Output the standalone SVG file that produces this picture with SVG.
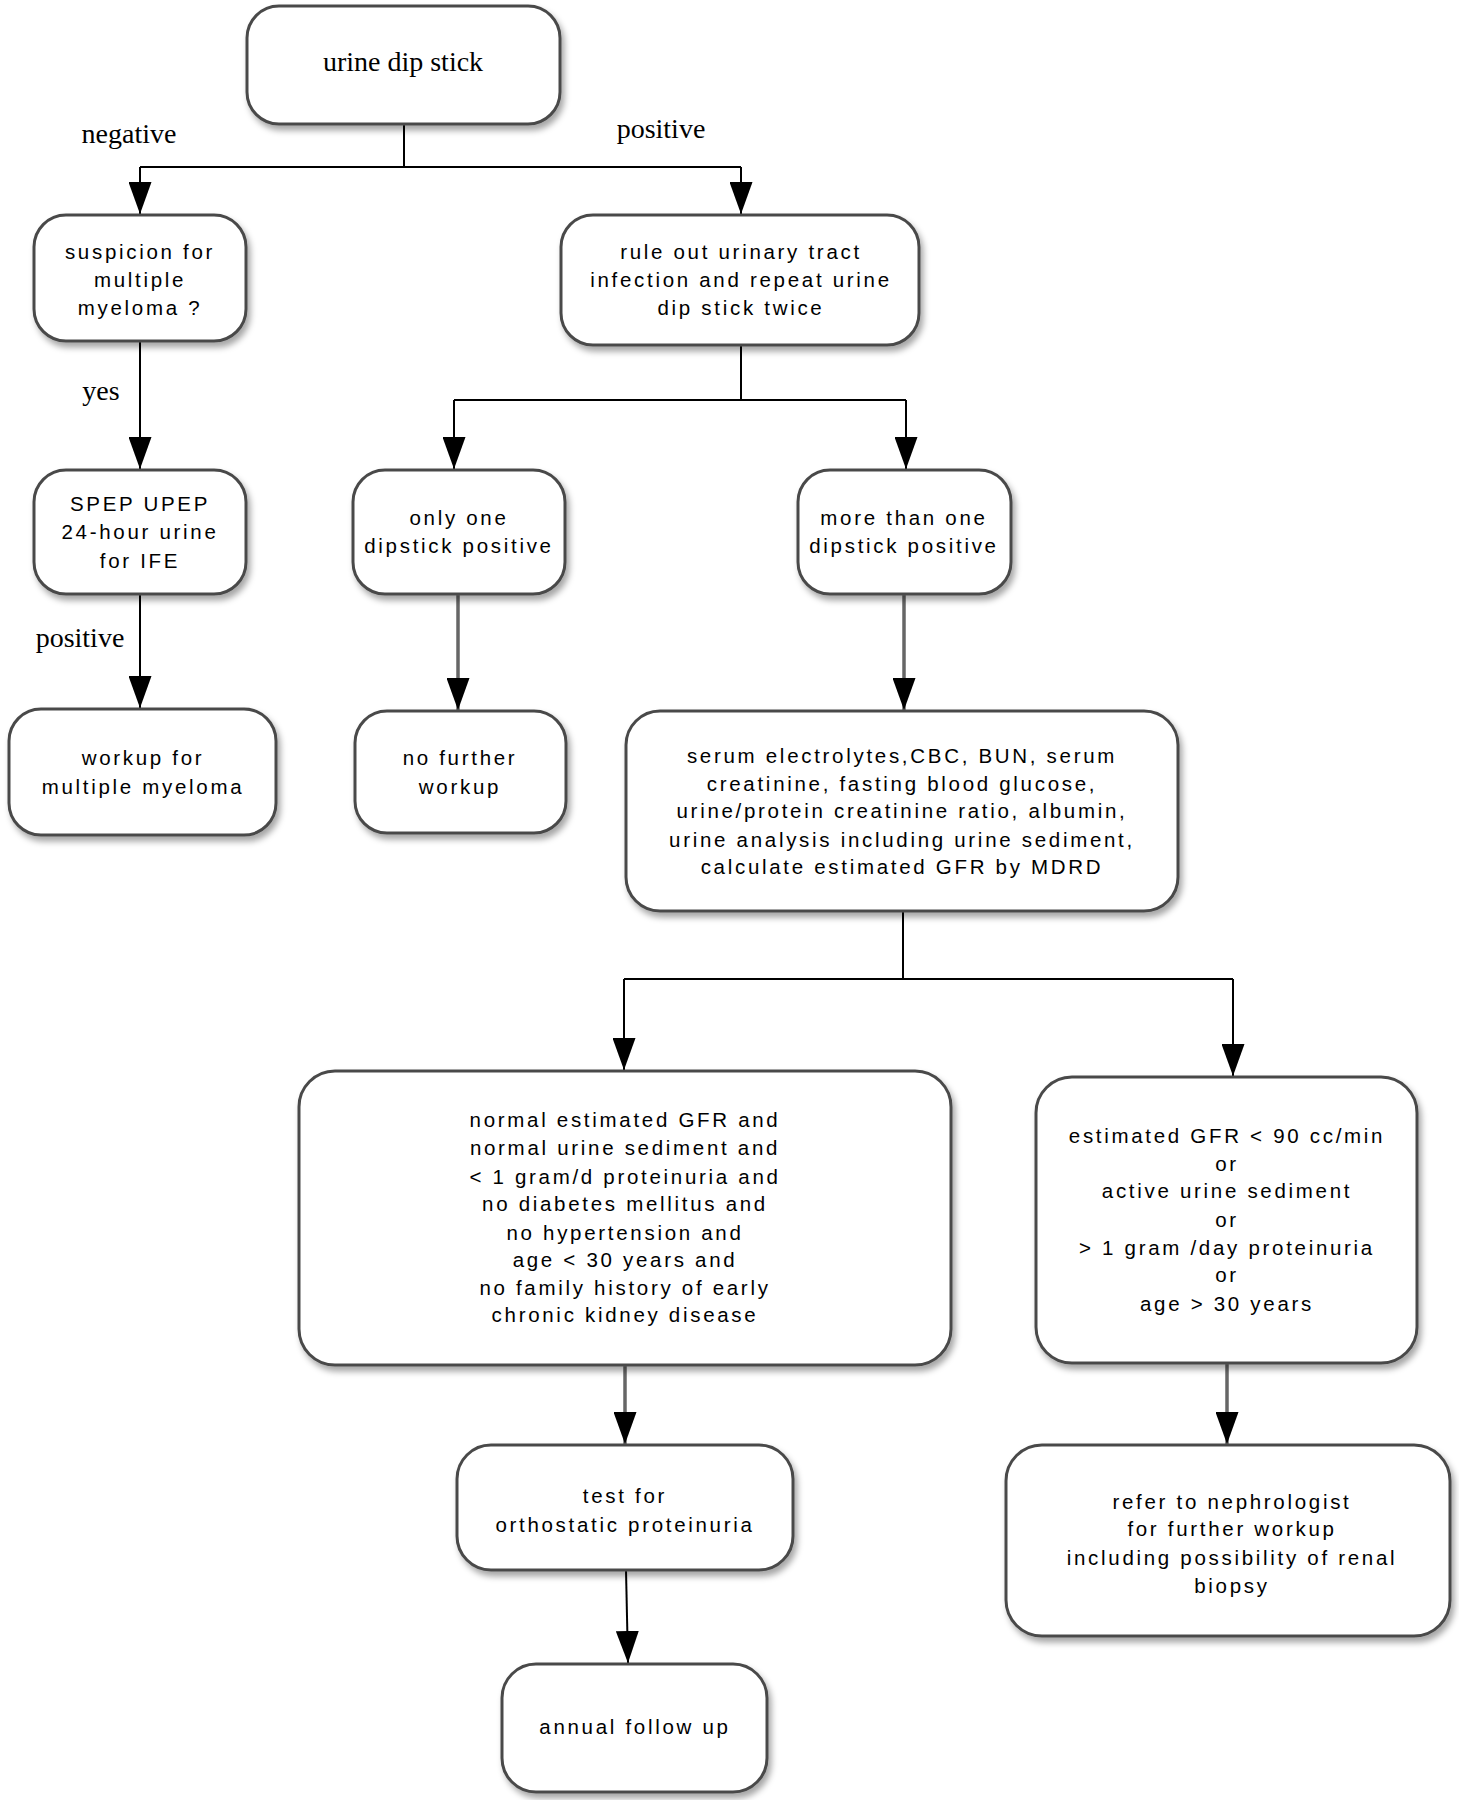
<svg xmlns="http://www.w3.org/2000/svg" width="1459" height="1800" viewBox="0 0 1459 1800">
<style>
.box{fill:#fff;stroke:#4a4a4a;stroke-width:3;filter:url(#sh)}
.t{font-family:"Liberation Sans",Arial,sans-serif;font-size:20.5px;fill:#000;text-anchor:middle;letter-spacing:2.7px}
.s{font-family:"Liberation Serif","Times New Roman",serif;font-size:28px;fill:#000;text-anchor:middle}
.c{fill:none;stroke:#000;stroke-width:2}
.g{fill:none;stroke:#666;stroke-width:3.5}
</style>
<defs>
<filter id="sh" x="-10%" y="-10%" width="125%" height="130%">
<feDropShadow dx="3" dy="5" stdDeviation="3" flood-color="#000" flood-opacity="0.35"/>
</filter>
<marker id="ar" markerUnits="userSpaceOnUse" markerWidth="32" markerHeight="23" refX="32" refY="11.5" orient="auto" viewBox="0 0 32 23">
<path d="M0,0 L32,11.5 L0,23 Z" fill="#000"/>
</marker>
</defs>
<rect width="1459" height="1800" fill="#fff"/>

<g id="connectors">
<path class="c" d="M404,124 V167 M140,167 H741"/>
<path class="c" d="M140,167 V214" marker-end="url(#ar)"/>
<path class="c" d="M741,167 V214" marker-end="url(#ar)"/>
<path class="c" d="M140,341 V469" marker-end="url(#ar)"/>
<path class="c" d="M140,594 V708" marker-end="url(#ar)"/>
<path class="c" d="M741,345 V400 M454,400 H906"/>
<path class="c" d="M454,400 V469" marker-end="url(#ar)"/>
<path class="c" d="M906,400 V469" marker-end="url(#ar)"/>
<path class="g" d="M458,594 V710" marker-end="url(#ar)"/>
<path class="g" d="M904,594 V710" marker-end="url(#ar)"/>
<path class="c" d="M903,911 V979 M624,979 H1233"/>
<path class="c" d="M624,979 V1070" marker-end="url(#ar)"/>
<path class="c" d="M1233,979 V1076" marker-end="url(#ar)"/>
<path class="g" d="M625,1365 V1444" marker-end="url(#ar)"/>
<path class="c" d="M626,1570 L628,1663" marker-end="url(#ar)"/>
<path class="g" d="M1227,1363 V1444" marker-end="url(#ar)"/>
<text class="s" x="129" y="143">negative</text>
<text class="s" x="661" y="138">positive</text>
<text class="s" x="101" y="400">yes</text>
<text class="s" x="80" y="647">positive</text>
</g>

<g id="n1">
<rect class="box" x="247" y="6" width="313" height="118" rx="32"/>
<text class="s" x="403" y="71">urine dip stick</text>
</g>
<g id="n2">
<rect class="box" x="34" y="215" width="212" height="126" rx="32"/>
<text class="t" x="140" y="259">suspicion for</text>
<text class="t" x="140" y="287">multiple</text>
<text class="t" x="140" y="315">myeloma ?</text>
</g>
<g id="n3">
<rect class="box" x="561" y="215" width="358" height="130" rx="32"/>
<text class="t" x="741" y="259">rule out urinary tract</text>
<text class="t" x="741" y="287">infection and repeat urine</text>
<text class="t" x="741" y="315">dip stick twice</text>
</g>
<g id="n4">
<rect class="box" x="34" y="470" width="212" height="124" rx="32"/>
<text class="t" x="140" y="511">SPEP UPEP</text>
<text class="t" x="140" y="539">24-hour urine</text>
<text class="t" x="140" y="568">for IFE</text>
</g>
<g id="n5">
<rect class="box" x="9" y="709" width="267" height="126" rx="32"/>
<text class="t" x="143" y="765">workup for</text>
<text class="t" x="143" y="794">multiple myeloma</text>
</g>
<g id="n6">
<rect class="box" x="353" y="470" width="212" height="124" rx="32"/>
<text class="t" x="459" y="525">only one</text>
<text class="t" x="459" y="553">dipstick positive</text>
</g>
<g id="n7">
<rect class="box" x="798" y="470" width="213" height="124" rx="32"/>
<text class="t" x="904" y="525">more than one</text>
<text class="t" x="904" y="553">dipstick positive</text>
</g>
<g id="n8">
<rect class="box" x="355" y="711" width="211" height="122" rx="32"/>
<text class="t" x="460" y="765">no further</text>
<text class="t" x="460" y="794">workup</text>
</g>
<g id="n9">
<rect class="box" x="626" y="711" width="552" height="200" rx="34"/>
<text class="t" x="902" y="763">serum electrolytes,CBC, BUN, serum</text>
<text class="t" x="902" y="791">creatinine, fasting blood glucose,</text>
<text class="t" x="902" y="818">urine/protein creatinine ratio, albumin,</text>
<text class="t" x="902" y="847">urine analysis including urine sediment,</text>
<text class="t" x="902" y="874">calculate estimated GFR by MDRD</text>
</g>
<g id="n10">
<rect class="box" x="299" y="1071" width="652" height="294" rx="36"/>
<text class="t" x="625" y="1127">normal estimated GFR and</text>
<text class="t" x="625" y="1155">normal urine sediment and</text>
<text class="t" x="625" y="1184">&lt; 1 gram/d proteinuria and</text>
<text class="t" x="625" y="1211">no diabetes mellitus and</text>
<text class="t" x="625" y="1240">no hypertension and</text>
<text class="t" x="625" y="1267">age &lt; 30 years and</text>
<text class="t" x="625" y="1295">no family history of early</text>
<text class="t" x="625" y="1322">chronic kidney disease</text>
</g>
<g id="n11">
<rect class="box" x="1036" y="1077" width="381" height="286" rx="36"/>
<text class="t" x="1227" y="1143">estimated GFR &lt; 90 cc/min</text>
<text class="t" x="1227" y="1171">or</text>
<text class="t" x="1227" y="1198">active urine sediment</text>
<text class="t" x="1227" y="1227">or</text>
<text class="t" x="1227" y="1255">&gt; 1 gram /day proteinuria</text>
<text class="t" x="1227" y="1282">or</text>
<text class="t" x="1227" y="1311">age &gt; 30 years</text>
</g>
<g id="n12">
<rect class="box" x="457" y="1445" width="336" height="125" rx="34"/>
<text class="t" x="625" y="1503">test for</text>
<text class="t" x="625" y="1532">orthostatic proteinuria</text>
</g>
<g id="n13">
<rect class="box" x="502" y="1664" width="265" height="128" rx="34"/>
<text class="t" x="635" y="1734">annual follow up</text>
</g>
<g id="n14">
<rect class="box" x="1006" y="1445" width="444" height="191" rx="36"/>
<text class="t" x="1232" y="1509">refer to nephrologist</text>
<text class="t" x="1232" y="1536">for further workup</text>
<text class="t" x="1232" y="1565">including possibility of renal</text>
<text class="t" x="1232" y="1593">biopsy</text>
</g>
</svg>
